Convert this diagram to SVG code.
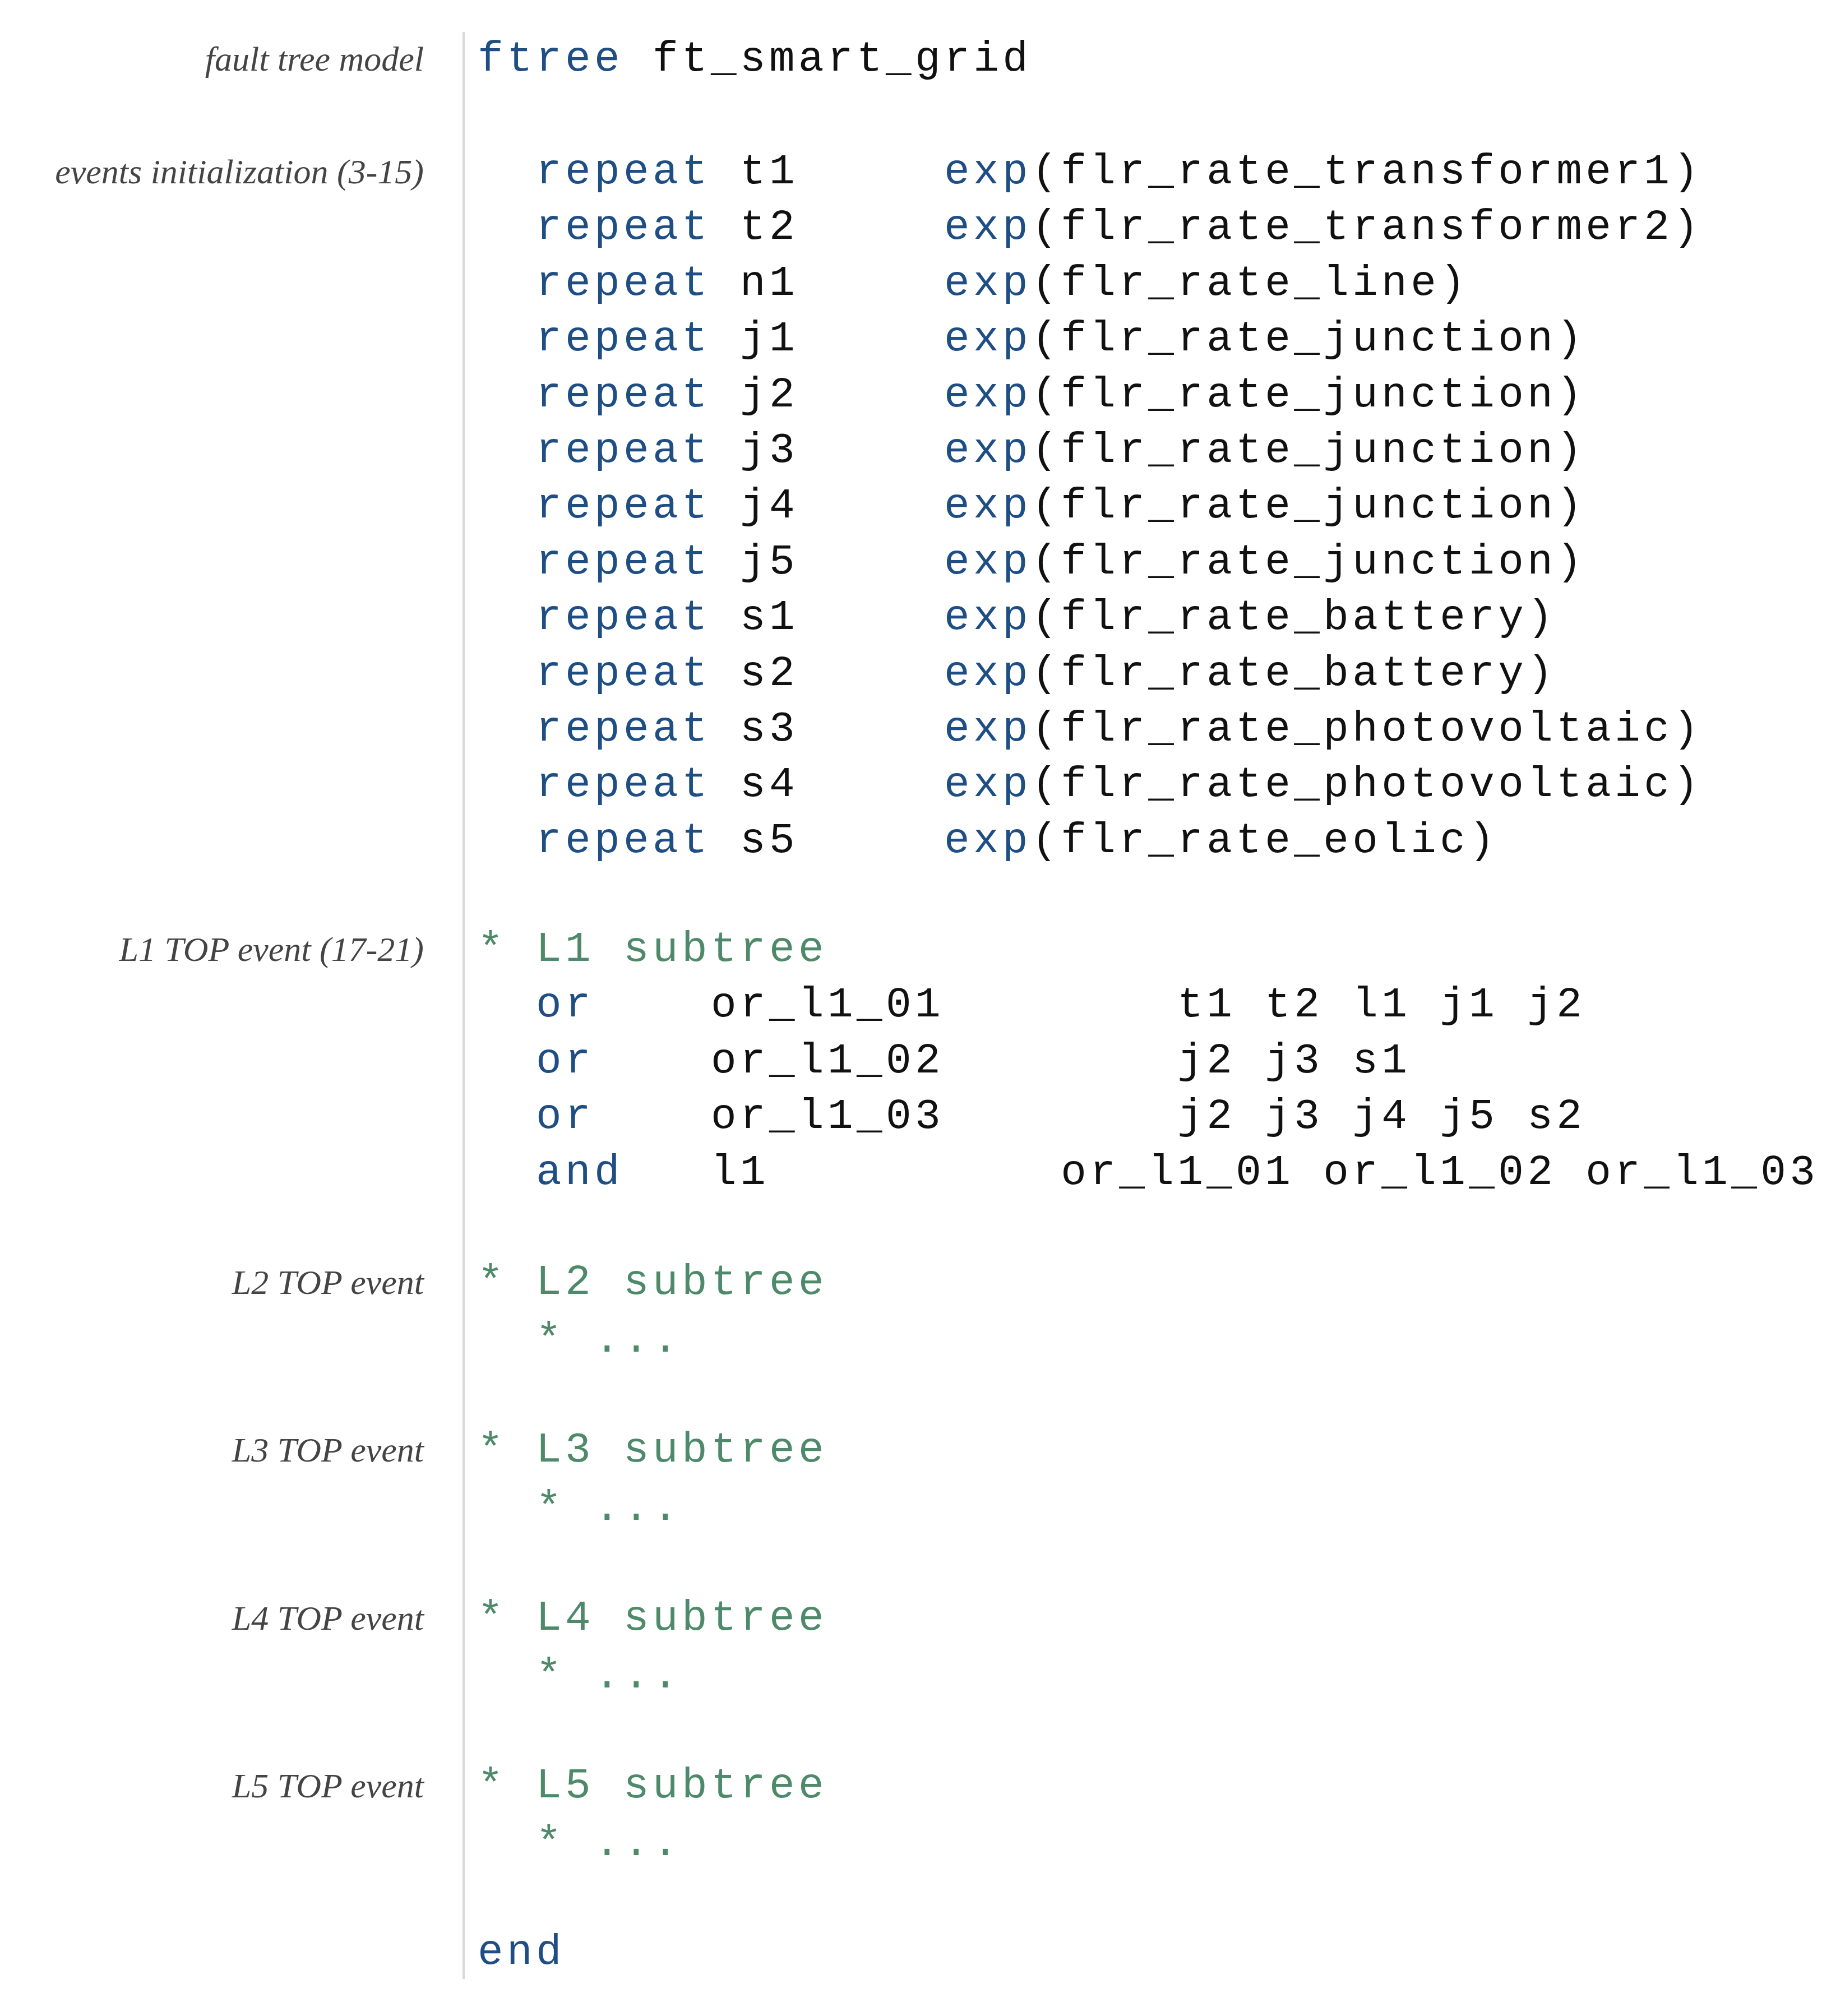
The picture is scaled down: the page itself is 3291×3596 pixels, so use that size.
<svg xmlns="http://www.w3.org/2000/svg" width="3291" height="3596" viewBox="0 0 3291 3596">
<style>
.lbl{font-family:"Liberation Serif",serif;font-style:italic;font-size:62px;fill:#444;text-anchor:end}
.c{font-family:"Liberation Mono",monospace;font-size:76px;letter-spacing:6.4px;fill:#111;white-space:pre}
.k{fill:#1f4e85}
.g{fill:#4e8a6a}
</style>
<rect width="3291" height="3596" fill="#fff"/>
<line x1="827" y1="57" x2="827" y2="3530" stroke="#d8d8d8" stroke-width="4"/>
<g id="labels">
<text class="lbl" x="756" y="126">fault tree model</text>
<text class="lbl" x="756" y="327">events initialization (3-15)</text>
<text class="lbl" x="756" y="1714">L1 TOP event (17-21)</text>
<text class="lbl" x="756" y="2308">L2 TOP event</text>
<text class="lbl" x="756" y="2607">L3 TOP event</text>
<text class="lbl" x="756" y="2907">L4 TOP event</text>
<text class="lbl" x="756" y="3206">L5 TOP event</text>
</g>
<g id="code" xml:space="preserve">
<text class="c" x="852" y="126"><tspan class="k">ftree</tspan> ft_smart_grid</text>
<text class="c" x="956" y="327"><tspan class="k">repeat</tspan> t1     <tspan class="k">exp</tspan>(flr_rate_transformer1)</text>
<text class="c" x="956" y="426"><tspan class="k">repeat</tspan> t2     <tspan class="k">exp</tspan>(flr_rate_transformer2)</text>
<text class="c" x="956" y="526"><tspan class="k">repeat</tspan> n1     <tspan class="k">exp</tspan>(flr_rate_line)</text>
<text class="c" x="956" y="625"><tspan class="k">repeat</tspan> j1     <tspan class="k">exp</tspan>(flr_rate_junction)</text>
<text class="c" x="956" y="725"><tspan class="k">repeat</tspan> j2     <tspan class="k">exp</tspan>(flr_rate_junction)</text>
<text class="c" x="956" y="824"><tspan class="k">repeat</tspan> j3     <tspan class="k">exp</tspan>(flr_rate_junction)</text>
<text class="c" x="956" y="923"><tspan class="k">repeat</tspan> j4     <tspan class="k">exp</tspan>(flr_rate_junction)</text>
<text class="c" x="956" y="1023"><tspan class="k">repeat</tspan> j5     <tspan class="k">exp</tspan>(flr_rate_junction)</text>
<text class="c" x="956" y="1122"><tspan class="k">repeat</tspan> s1     <tspan class="k">exp</tspan>(flr_rate_battery)</text>
<text class="c" x="956" y="1222"><tspan class="k">repeat</tspan> s2     <tspan class="k">exp</tspan>(flr_rate_battery)</text>
<text class="c" x="956" y="1321"><tspan class="k">repeat</tspan> s3     <tspan class="k">exp</tspan>(flr_rate_photovoltaic)</text>
<text class="c" x="956" y="1420"><tspan class="k">repeat</tspan> s4     <tspan class="k">exp</tspan>(flr_rate_photovoltaic)</text>
<text class="c" x="956" y="1520"><tspan class="k">repeat</tspan> s5     <tspan class="k">exp</tspan>(flr_rate_eolic)</text>
<text class="c g" x="852" y="1714">* L1 subtree</text>
<text class="c" x="956" y="1813"><tspan class="k">or</tspan>    or_l1_01        t1 t2 l1 j1 j2</text>
<text class="c" x="956" y="1913"><tspan class="k">or</tspan>    or_l1_02        j2 j3 s1</text>
<text class="c" x="956" y="2012"><tspan class="k">or</tspan>    or_l1_03        j2 j3 j4 j5 s2</text>
<text class="c" x="956" y="2112"><tspan class="k">and</tspan>   l1          or_l1_01 or_l1_02 or_l1_03</text>
<text class="c g" x="852" y="2308">* L2 subtree</text>
<text class="c g" x="956" y="2411">* ...</text>
<text class="c g" x="852" y="2607">* L3 subtree</text>
<text class="c g" x="956" y="2711">* ...</text>
<text class="c g" x="852" y="2907">* L4 subtree</text>
<text class="c g" x="956" y="3010">* ...</text>
<text class="c g" x="852" y="3206">* L5 subtree</text>
<text class="c g" x="956" y="3309">* ...</text>
<text class="c k" x="852" y="3503">end</text>
</g>
</svg>
